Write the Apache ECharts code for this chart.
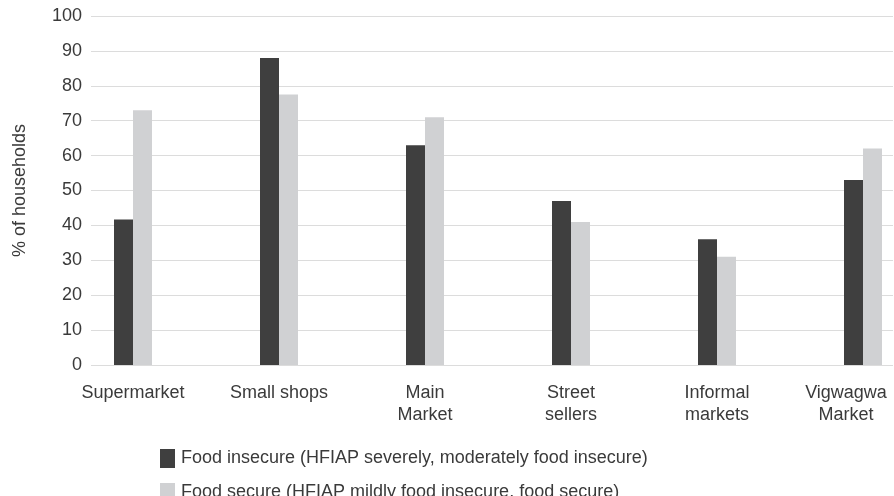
<!DOCTYPE html>
<html><head><meta charset="utf-8">
<script src="https://cdn.jsdelivr.net/npm/echarts@6/dist/echarts.min.js"></script>
<style>html,body{margin:0;padding:0;background:#fff}#c{width:894px;height:496px}</style>
</head><body><div id="c"></div>
<script>
const categories = ['Supermarket', 'Small shops', 'Main\nMarket', 'Street\nsellers', 'Informal\nmarkets', 'Vigwagwa\nMarket'];
const foodInsecure = [41.7, 88, 63, 47, 36, 53];
const foodSecure = [73, 77.5, 71, 41, 31, 62];
const seriesNames = ['Food insecure (HFIAP severely, moderately food insecure)', 'Food secure (HFIAP mildly food insecure, food secure)'];
const yTicks = {min: 0, max: 100, interval: 10};

const font = 'Liberation Sans';
const txt = '#3a3a3a';
const fs = 18;
const chart = echarts.init(document.getElementById('c'), null, {renderer: 'canvas'});
const legendCommon = {
  orient: 'vertical', left: 160, padding: 0, itemWidth: 15, itemHeight: 19, icon: 'rect',
  textStyle: {color: txt, fontSize: fs, fontFamily: font, padding: [0, 0, 0, 1]}
};
const lastIdx = categories.length - 1;
chart.setOption({
  animation: false,
  textStyle: {fontFamily: font},
  grid: [
    {left: 91, right: 1, top: 16, bottom: 131, outerBoundsMode: 'none'},
    {left: 60, width: 876, top: 16, bottom: 131, outerBoundsMode: 'none'}
  ],
  xAxis: [
    {gridIndex: 0, type: 'category', data: categories, show: false},
    {gridIndex: 1, type: 'category', data: categories,
     axisLine: {show: false}, axisTick: {show: false},
     axisLabel: {color: txt, fontSize: fs, fontFamily: font, margin: 17, lineHeight: 22, interval: 0, hideOverlap: false,
       formatter: function (v, i) {
         if (i === lastIdx) return v.split('\n').map(function (s) { return '{last|' + s + '}'; }).join('\n');
         return v;
       },
       rich: {last: {color: txt, fontSize: fs, fontFamily: font, lineHeight: 22, padding: [0, 34, 0, 0]}}}}
  ],
  yAxis: [
    {gridIndex: 0, type: 'value', min: yTicks.min, max: yTicks.max, interval: yTicks.interval,
     name: '% of households', nameLocation: 'middle', nameGap: 62, nameRotate: 90,
     nameTextStyle: {color: txt, fontSize: fs, fontFamily: font},
     axisLine: {show: false}, axisTick: {show: false},
     axisLabel: {color: txt, fontSize: fs, fontFamily: font, margin: 9},
     splitLine: {lineStyle: {color: '#dcdcdc', width: 1}}},
    {gridIndex: 1, type: 'value', min: yTicks.min, max: yTicks.max, interval: yTicks.interval, show: false,
     splitLine: {show: false}}
  ],
  legend: [
    Object.assign({}, legendCommon, {top: 449, data: [seriesNames[0]]}),
    Object.assign({}, legendCommon, {top: 483, data: [seriesNames[1]]})
  ],
  series: [
    {name: seriesNames[0], type: 'bar', xAxisIndex: 1, yAxisIndex: 1, data: foodInsecure,
     barWidth: 19, barGap: '0%', itemStyle: {color: '#3f3f3f'}},
    {name: seriesNames[1], type: 'bar', xAxisIndex: 1, yAxisIndex: 1, data: foodSecure,
     barWidth: 19, barGap: '0%', itemStyle: {color: '#d0d1d3'}}
  ]
});
</script></body></html>
